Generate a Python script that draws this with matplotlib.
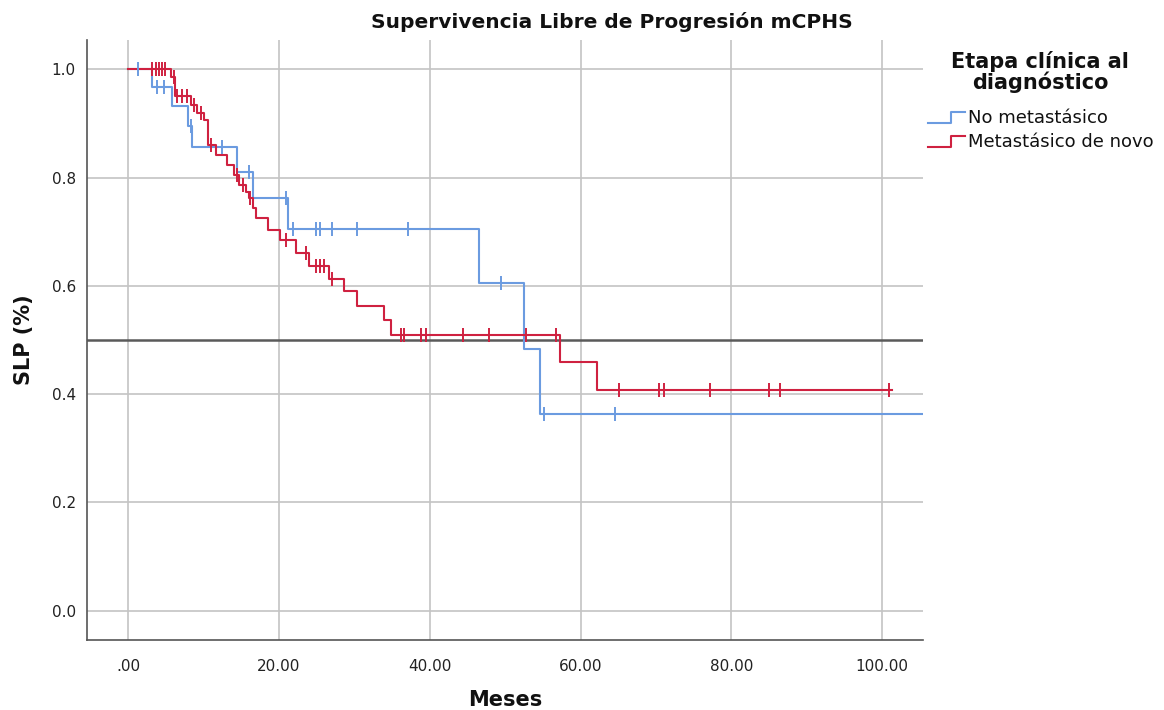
import numpy as np
import matplotlib
matplotlib.use("Agg")
import matplotlib.pyplot as plt
from matplotlib.lines import Line2D

# ---------------- data ----------------
series_names = ["No metastásico", "Metastásico de novo"]

# No metastásico: event times (months) and survival after each event
blue_times = [3.2, 5.8, 8.0, 8.45, 14.4, 16.6, 21.25, 46.5, 52.5, 54.65]
blue_surv = [0.967, 0.933, 0.895, 0.857, 0.810, 0.762, 0.705, 0.605, 0.484, 0.363]
blue_censor = [1.3, 3.8, 4.75, 8.3, 12.4, 16.0, 20.9, 21.9, 24.95, 25.5, 27.1,
               30.4, 37.1, 49.5, 55.2, 64.6]
blue_end = 108.0

# Metastásico de novo
red_times = [5.7, 6.2, 8.3, 9.1, 10.0, 10.6, 11.6, 13.1, 14.0, 14.65, 15.6, 16.0,
             16.6, 17.0, 18.6, 20.1, 22.3, 24.0, 26.7, 28.6, 30.4, 33.9, 34.85,
             57.3, 62.2]
red_surv = [0.985, 0.951, 0.934, 0.919, 0.906, 0.860, 0.842, 0.823, 0.804, 0.786,
            0.773, 0.762, 0.743, 0.725, 0.703, 0.685, 0.660, 0.637, 0.613, 0.590,
            0.562, 0.537, 0.510, 0.459, 0.408]
red_censor = [3.2, 3.7, 4.1, 4.5, 4.9, 6.1, 6.5, 7.1, 7.8, 8.7, 9.6, 11.0, 14.4,
              15.2, 16.2, 20.9, 23.6, 24.95, 25.5, 26.0, 27.1, 36.2, 36.6, 38.8,
              39.5, 44.4, 47.9, 52.7, 56.8, 65.1, 70.4, 71.0, 77.2, 85.0, 86.5,
              100.9]
red_end = 101.3

median_line = 0.5
x_ticks = [0, 20, 40, 60, 80, 100]
x_ticklabels = [".00", "20.00", "40.00", "60.00", "80.00", "100.00"]
y_ticks = [0.0, 0.2, 0.4, 0.6, 0.8, 1.0]
y_ticklabels = ["0.0", "0.2", "0.4", "0.6", "0.8", "1.0"]

title = "Supervivencia Libre de Progresión mCPHS"
xlabel = "Meses"
ylabel = "SLP (%)"
legend_title = "Etapa clínica al\ndiagnóstico"

colors = ["#6b9be0", "#cf2140"]

# ---------------- figure ----------------
W, H = 1164, 710
fig = plt.figure(figsize=(W / 100, H / 100), dpi=100)
ax = fig.add_axes([87 / W, 1 - 640 / H, (923 - 87) / W, (640 - 40) / H])

ax.set_xlim(-5.45, 105.4)
ax.set_ylim(-0.054, 1.054)

for xv in x_ticks:
    ax.axvline(xv, color="#c4c4c4", lw=1.2, zorder=0)
for yv in y_ticks:
    ax.axhline(yv, color="#c4c4c4", lw=1.2, zorder=0)

ax.axhline(median_line, color="#5a5a5a", lw=1.8, zorder=1)


def km_arrays(times, surv, end):
    t = np.concatenate([[0.0], np.asarray(times, float), [end]])
    s = np.concatenate([[1.0], np.asarray(surv, float), [surv[-1]]])
    return t, s


def surv_at(times, surv, tc):
    s = 1.0
    for t_, v in zip(times, surv):
        if t_ <= tc:
            s = v
    return s


for times, surv, cens, end, c in [
    (blue_times, blue_surv, blue_censor, blue_end, colors[0]),
    (red_times, red_surv, red_censor, red_end, colors[1]),
]:
    t, s = km_arrays(times, surv, end)
    ax.step(t, s, where="post", color=c, lw=1.5, zorder=3)
    cy = [surv_at(times, surv, tc) for tc in cens]
    ax.plot(cens, cy, ls="none", marker="|", ms=10, mew=1.4, color=c, zorder=4)

for sp in ["top", "right"]:
    ax.spines[sp].set_visible(False)
for sp in ["left", "bottom"]:
    ax.spines[sp].set_color("#555555")
    ax.spines[sp].set_linewidth(1.2)

ax.set_xticks(x_ticks)
ax.set_xticklabels(x_ticklabels)
ax.set_yticks(y_ticks)
ax.set_yticklabels(y_ticklabels)
ax.tick_params(axis="both", length=0, labelsize=11, colors="#222222")
ax.tick_params(axis="x", pad=14)
ax.tick_params(axis="y", pad=8)

fig.text(612 / W, 1 - 22 / H, title, ha="center", va="center",
         fontsize=14.5, fontweight="bold", color="#111111")
fig.text(505 / W, 1 - 700 / H, xlabel, ha="center", va="center",
         fontsize=15, fontweight="bold", color="#111111")
fig.text(24 / W, 1 - 340 / H, ylabel, ha="center", va="center", rotation=90,
         fontsize=15, fontweight="bold", color="#111111")

# legend
fig.text(1040 / W, 1 - 72 / H, legend_title, ha="center", va="center",
         fontsize=15, fontweight="bold", color="#111111", linespacing=0.95)
for i, (name, c) in enumerate(zip(series_names, colors)):
    yc = 118 + i * 24
    xs = np.array([928, 951, 951, 965]) / W
    ys = 1 - np.array([yc + 5, yc + 5, yc - 6, yc - 6]) / H
    fig.add_artist(Line2D(xs, ys, color=c, lw=1.5, transform=fig.transFigure))
    fig.text(968 / W, 1 - yc / H, name, ha="left", va="center",
             fontsize=13, color="#111111")

fig.savefig("out.png", dpi=100)
